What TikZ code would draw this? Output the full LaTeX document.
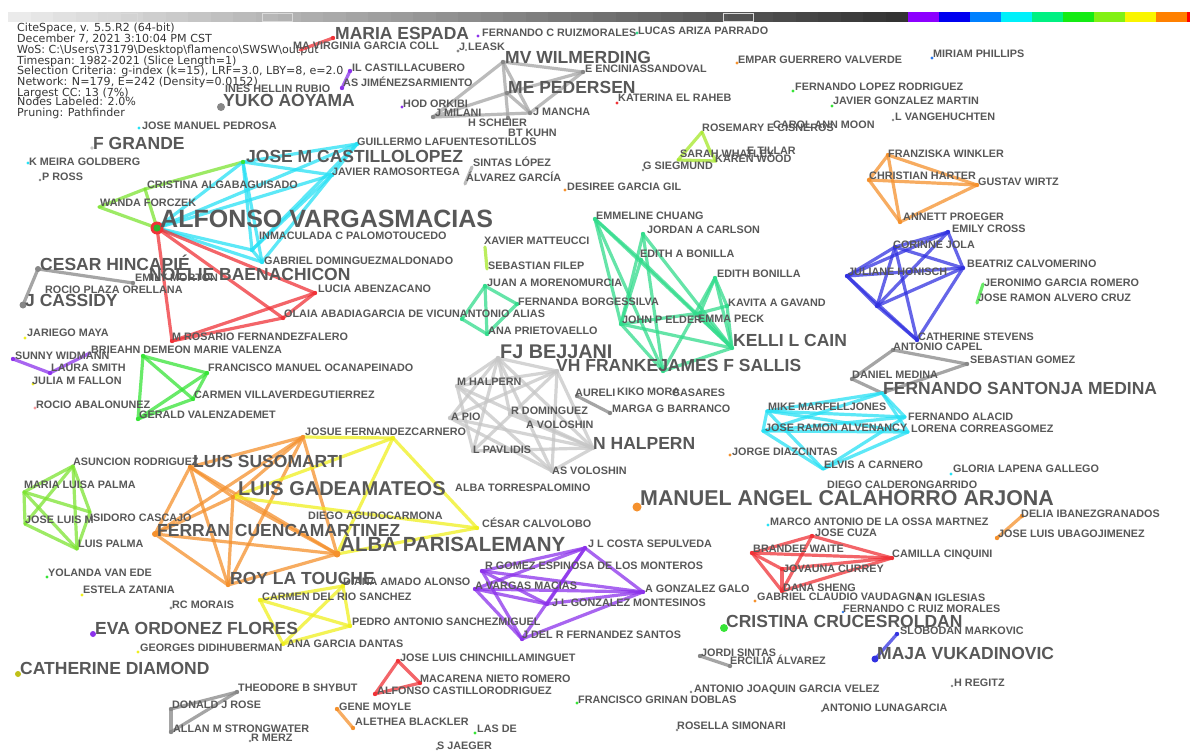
\documentclass[tikz,border=0pt]{standalone}
\usepackage{fontspec}
\setmainfont{Liberation Sans}
\newfontfamily\hdrfont{DejaVu Sans}
\definecolor{labc}{RGB}{88,88,88}
\definecolor{hdrc}{RGB}{55,55,55}
\definecolor{cCyan}{RGB}{40,225,245}
\definecolor{cRed}{RGB}{240,50,55}
\definecolor{cLime}{RGB}{125,228,50}
\definecolor{cSpring}{RGB}{50,220,140}
\definecolor{cBlue}{RGB}{50,50,225}
\definecolor{cAzure}{RGB}{40,120,240}
\definecolor{cPurple}{RGB}{140,50,235}
\definecolor{cOrange}{RGB}{245,145,45}
\definecolor{cYellow}{RGB}{240,240,30}
\definecolor{cGray}{RGB}{135,135,135}
\definecolor{cMGray}{RGB}{165,165,165}
\definecolor{cLGray}{RGB}{198,198,198}
\definecolor{cGreen}{RGB}{55,228,55}
\definecolor{cChart}{RGB}{165,232,40}
\tikzset{
  lb/.style={anchor=base west, inner sep=0pt, text=labc},
  ls/.style={lb, font=\bfseries\fontsize{10.8}{13}\selectfont, yshift=-3.9pt},
  lm/.style={lb, font=\bfseries\fontsize{17.5}{20}\selectfont, yshift=-6.3pt},
  hdr/.style={anchor=base west, inner sep=0pt, text=hdrc, font=\hdrfont\fontsize{11.1}{12}\selectfont, yshift=-4pt},
  edge/.style={line width=3.2pt, opacity=0.75, line cap=round},
}
\newcommand\Edges[2]{\foreach \a/\b in {#2} {\draw[edge,#1] (\a)--(\b);}}
\newcommand\Dots[2]{\foreach \a in {#2} {\fill[#1] (\a) circle (2.2pt);}}
\begin{document}
\begin{tikzpicture}[x=1pt,y=-1pt]
\useasboundingbox (0,0) rectangle (1195,752);
\fill[white] (0,0) rectangle (1195,752);

% ---- colour bar ----
\foreach \i in {0,...,39}{
  \pgfmathsetmacro\p{8+1.85*\i}
  \fill[black!\p] ({8+22.5*\i},12) rectangle ({8+22.5*(\i+1)+0.4},22);
}
\foreach \rr/\gg/\bb [count=\k from 0] in {140/0/255, 0/0/240, 0/128/255, 0/240/250, 0/240/130, 20/235/20, 130/240/20, 250/245/0, 255/128/0}{
  \definecolor{barc}{RGB}{\rr,\gg,\bb}
  \fill[barc] ({908+31*\k},12) rectangle ({908+31*(\k+1)+0.4},22);
}
\fill[red] (1187,12) rectangle (1190,22);
\foreach \x in {107,262,723}{\draw[white!70!gray, line width=0.9pt] (\x,13) rectangle (\x+30,21);}

% ---- header ----
\node[hdr] (h1) at (17,28) {CiteSpace, v. 5.5.R2 (64-bit)};
\node[hdr] (h2) at (17,39) {December 7, 2021 3:10:04 PM CST};
\node[hdr] (h3) at (17,50) {WoS: C:\textbackslash Users\textbackslash 73179\textbackslash Desktop\textbackslash flamenco\textbackslash SWSW\textbackslash output};
\node[hdr] (h4) at (17,61) {Timespan: 1982-2021 (Slice Length=1)};
\node[hdr] (h5) at (17,71) {Selection Criteria: g-index (k=15), LRF=3.0, LBY=8, e=2.0};
\node[hdr] (h6) at (17,82) {Network: N=179, E=242 (Density=0.0152)};
\node[hdr] (h7) at (17,92) {Largest CC: 13 (7\%)};
\node[hdr] (h8) at (17,102) {Nodes Labeled: 2.0\%};
\node[hdr] (h9) at (17,113) {Pruning: Pathfinder};

% ---- network nodes ----
\foreach \n/\x/\y in {
 avm/157/228, jmc/243/162, gls/357/144, jro/332/175, cag/145/189, wf/99/207, ipt/252/250, gdm/262/262,
 la/315/293, oa/283/318, mrf/172/341,
 chp/38/269, emm/133/283, jcs/23/305,
 mvw/503/62, mep/507/93, ees/583/72, jmi/433/117, jma/530/113, btk/508/118,
 mesp/333/38, mvgc/300/50, ilc/350/71, asj/342/88, sl/472/167, ag/465/184, xm/485/247, sf/487/269,
 ros/702/132, swh/678/160, etl/710/151, kw/716/161,
 fwk/888/155, chh/869/180, gwz/977/185, apg/900/222,
 ecr/948/232, cjl/895/247, bcm/963/268, jhn/847/276, bbl/877/306, cst/917/340,
 acp/893/350, dmd/852/379, sgz/967/364, fsm/882/393,
 mmj/767/411, jrv/763/431, eac/823/469, fal/905/417, lcg/908/432,
 emc/595/219, jac/643/234, eab/641/260, ebn/715/278, kag/727/306, jpe/621/324, emp/700/313, klc/732/348, vhf/663/371,
 jam/485/286, fbs/517/304, apv/487/334, aal/462/319,
 fjb/498/358, vhg/557/371, mhp/457/386, api/450/418, rdm/510/414, lpv/473/451, nhp/593/448, asv/552/471,
 aur/577/396, mgb/610/413,
 bdm/143/356, fmo/207/373, cvg/193/399, gvd/138/419,
 swd/13/359, lsw/50/373, bdp/90/353,
 asr/73/466, mlp/24/492, jlm/25/524, lpl/77/549, isc/90/512,
 jfo/303/437, lss/190/467, lgm/233/497, fcm/155/534, rlt/228/585, alb/337/554,
 yjf/393/438, ccl/477/528,
 crs/260/600, daa/343/586, pas/350/626, agd/283/644,
 jlc/585/548, rge/482/571, avp/475/589, jlg/547/604, jdr/522/639, agg/643/592,
 bwt/752/553, jcz/812/536, cci/892/558, jcu/782/569, dsh/782/591,
 jlch/398/661, mnr/420/683, acr/375/694,
 gmy/337/709, abl/353/728,
 tbs/237/692, djr/171/709, ams/171/732,
 jsi/700/656, eal/730/666,
 mvk/875/659, smk/897/634,
 dib/1022/516, jlu/997/538,
 jgr/983/284, jrc/977/303}
 {\coordinate (\n) at (\x,\y);}

% ---- connectors ----
\Edges{cLime}{wf/avm, wf/cag, cag/jmc, cag/avm}
\Edges{cCyan}{avm/jmc, avm/gls, avm/jro, avm/ipt, avm/gdm, jmc/gls, jmc/jro, jmc/ipt, jmc/gdm, gls/jro, gls/ipt, jro/ipt, jro/gdm, ipt/gdm}
\Edges{cRed}{avm/la, avm/oa, avm/mrf, mrf/la, mrf/oa, la/oa}
\Edges{cGray}{chp/emm, chp/jcs}
\Edges{cMGray}{mvw/ees, mvw/jmi, mvw/jma, mvw/btk, mep/jmi, mep/ees, mep/jma, jmi/jma, jma/ees}
\Edges{cRed}{mesp/mvgc}
\Edges{cPurple}{ilc/asj}
\Edges{cMGray}{sl/ag}
\Edges{cChart}{xm/sf, ros/swh, ros/etl, swh/kw, etl/kw}
\Edges{cOrange}{fwk/gwz, chh/gwz, gwz/apg, fwk/chh, chh/apg, fwk/apg}
\Edges{cBlue}{ecr/cjl, ecr/bcm, ecr/jhn, ecr/bbl, cjl/bcm, cjl/jhn, cjl/cst, cjl/bbl, bcm/jhn, bcm/bbl, bcm/cst, jhn/bbl, jhn/cst, bbl/cst}
\Edges{cGray}{acp/sgz, fsm/sgz, dmd/acp, dmd/fsm}
\Edges{cCyan}{mmj/fsm, mmj/fal, mmj/lcg, jrv/fsm, jrv/fal, jrv/lcg, eac/lcg, eac/fal, eac/mmj, jrv/eac, mmj/jrv, fsm/fal, fsm/lcg}
\Edges{cSpring}{emc/klc, emc/jpe, emc/vhf, emc/eab, jac/klc, jac/jpe, jac/vhf, eab/klc, eab/jpe, ebn/klc, ebn/emp, ebn/kag, kag/klc, kag/emp, emp/klc, emp/jpe, jpe/klc, jpe/vhf, vhf/klc, ebn/vhf}
\Edges{cSpring}{jam/fbs, fbs/apv, apv/aal, aal/jam, jam/apv}
\Edges{cLGray}{fjb/mhp, fjb/api, fjb/rdm, fjb/lpv, fjb/nhp, fjb/asv, fjb/vhg, vhg/mhp, vhg/api, vhg/lpv, vhg/nhp, vhg/asv, mhp/nhp, mhp/asv, api/nhp, lpv/nhp, rdm/nhp, asv/nhp, api/asv, mhp/lpv}
\Edges{cGray}{aur/mgb}
\Edges{cGreen}{bdm/fmo, bdm/cvg, bdm/gvd, fmo/gvd, cvg/gvd, fmo/cvg}
\Edges{cPurple}{swd/lsw, lsw/bdp}
\Edges{cLime}{asr/mlp, asr/jlm, asr/lpl, asr/isc, mlp/lpl, mlp/isc, jlm/lpl, mlp/jlm, isc/lpl}
\Edges{cOrange}{jfo/lss, jfo/fcm, jfo/rlt, jfo/alb, jfo/lgm, lss/fcm, lss/rlt, lss/alb, lss/lgm, fcm/rlt, fcm/alb, fcm/lgm, rlt/alb, rlt/lgm, lgm/alb}
\Edges{cYellow}{yjf/ccl, yjf/alb, yjf/lgm, ccl/alb, ccl/lgm, yjf/jfo}
\Edges{cYellow}{crs/daa, crs/pas, daa/pas, crs/agd, agd/pas, agd/daa}
\Edges{cPurple}{jlc/rge, jlc/avp, jlc/jlg, jlc/agg, jlc/jdr, rge/agg, rge/jlg, avp/agg, avp/jlg, avp/jdr, jlg/agg, jdr/agg, rge/jdr}
\Edges{cRed}{bwt/jcz, bwt/cci, bwt/dsh, bwt/jcu, jcz/cci, jcz/dsh, jcu/cci, dsh/cci, jcu/dsh}
\Edges{cRed}{jlch/mnr, jlch/acr, mnr/acr}
\Edges{cOrange}{gmy/abl, dib/jlu}
\Edges{cGray}{tbs/djr, tbs/ams, djr/ams, jsi/eal}
\Edges{cBlue}{mvk/smk}
\Edges{cGreen}{jgr/jrc}

% ---- node dots ----
\Dots{cGreen}{jmc}
\Dots{cCyan}{gls,jro,ipt,gdm}
\Dots{cRed}{la,oa,mrf,mesp,bwt,jcz,cci,jcu,dsh,jlch,mnr,acr}
\Dots{cGray}{chp,emm,jcs,mvw,mep,ees,jmi,jma,btk,acp,dmd,sgz,tbs,djr,ams,jsi,eal,aur,mgb}
\Dots{cOrange}{fwk,chh,gwz,apg,jfo,lss,lgm,fcm,rlt,alb,gmy,abl,dib,jlu}
\Dots{cBlue}{ecr,cjl,bcm,jhn,bbl,cst,mvk,smk}
\Dots{cPurple}{jlc,rge,avp,jlg,jdr,agg,swd,lsw,ilc,asj}
\Dots{cGreen}{bdm,fmo,cvg,gvd}
\Dots{cSpring}{emc,jac,eab,ebn,kag,jpe,emp,klc,vhf,jam,fbs,apv,aal}
\Dots{cLGray}{fjb,vhg,mhp,api,rdm,lpv,nhp,asv}
\Dots{cYellow}{yjf,ccl,crs,daa,pas,agd}
\fill[cRed] (avm) circle (6.5pt);
\fill[cGreen!80!black] (avm) circle (3.6pt);
\fill[cGray] (jcs) circle (3.5pt);
\fill[cGray] (chp) circle (3pt);
\fill[cOrange] (fcm) circle (3pt);
\fill[cOrange] (alb) circle (3.5pt);
\fill[cBlue] (mvk) circle (3.5pt);
\foreach \x/\y/\c/\r in {
 478/36/cPurple/1.6, 637/33/cSpring/1.6, 458/51/cGray/1.6, 737/63/cOrange/1.6, 932/58/cAzure/1.6,
 617/103/cRed/1.6, 793/91/cGreen/1.6, 832/106/cGreen/1.6, 893/120/cGray/1.4, 139/128/cCyan/1.6,
 92/148/cLGray/1.8, 28/163/cCyan/1.6, 40/180/cGray/1.4, 402/107/cPurple/1.6, 643/170/cGray/1.4,
 565/190/cOrange/1.6, 25/338/cYellow/1.6, 33/384/cYellow/1.6, 35/408/cRed!50/1.6, 47/577/cGreen/1.6,
 82/595/cYellow/1.6, 171/608/cGray/1.6, 93/634/cPurple/3, 138/652/cYellow/1.6, 18/674/cYellow!80!black/3,
 637/507/cOrange/4.5, 724/628/cGreen/4, 221/107/cGray/4, 730/455/cOrange/1.6, 768/525/cCyan/1.6,
 755/601/cOrange/1.6, 951/474/cCyan/1.6, 577/703/cGreen/1.6, 475/733/cGreen/1.6, 437/749/cGray/1.4,
 677/730/cGray/1.4, 822/711/cGray/1.4, 952/686/cGray/1.4, 250/741/cGray/1.4, 691/692/cGray/1.4,
 843/612/cAzure/1.4, 466/50/cGray/1.2}
 {\fill[\c] (\x,\y) circle (\r pt);}

% ---- small labels ----
\foreach \x/\y/\t in {
 293/46/MA VIRGINIA GARCIA COLL, 482/33/FERNANDO C RUIZMORALES, 638/31/LUCAS ARIZA PARRADO,
 459/47/J LEASK, 585/69/E ENCINIASSANDOVAL, 352/68/IL CASTILLACUBERO, 343/83/AS JIMÉNEZSARMIENTO,
 225/89/INES HELLIN RUBIO, 403/104/HOD ORKIBI, 435/113/J MILANI, 533/112/J MANCHA, 468/123/H SCHEIER,
 508/133/BT KUHN, 618/98/KATERINA EL RAHEB, 738/60/EMPAR GUERRERO VALVERDE, 933/54/MIRIAM PHILLIPS,
 795/87/FERNANDO LOPEZ RODRIGUEZ, 833/101/JAVIER GONZALEZ MARTIN, 895/117/L VANGEHUCHTEN,
 142/126/JOSE MANUEL PEDROSA, 357/142/GUILLERMO LAFUENTESOTILLOS, 702/128/ROSEMARY E CISNEROS,
 773/125/CAROL ANN MOON, 680/154/SARAH WHATLEY, 747/151/E TILLAR, 715/159/KAREN WOOD,
 643/166/G SIEGMUND, 888/154/FRANZISKA WINKLER, 869/176/CHRISTIAN HARTER, 978/182/GUSTAV WIRTZ,
 29/162/K MEIRA GOLDBERG, 473/163/SINTAS LÓPEZ, 332/172/JAVIER RAMOSORTEGA, 466/178/ÁLVAREZ GARCÍA,
 42/177/P ROSS, 567/187/DESIREE GARCIA GIL, 147/185/CRISTINA ALGABAGUISADO, 100/203/WANDA FORCZEK,
 596/216/EMMELINE CHUANG, 647/230/JORDAN A CARLSON, 903/217/ANNETT PROEGER, 952/229/EMILY CROSS,
 259/236/INMACULADA C PALOMOTOUCEDO, 893/245/CORINNE JOLA, 484/241/XAVIER MATTEUCCI,
 640/254/EDITH A BONILLA, 264/261/GABRIEL DOMINGUEZMALDONADO, 848/272/JULIANE HONISCH,
 967/264/BEATRIZ CALVOMERINO, 488/266/SEBASTIAN FILEP, 984/283/JERONIMO GARCIA ROMERO,
 717/274/EDITH BONILLA, 487/283/JUAN A MORENOMURCIA, 135/278/EMILY MORTON, 45/290/ROCIO PLAZA ORELLANA,
 318/289/LUCIA ABENZACANO, 728/303/KAVITA A GAVAND, 978/298/JOSE RAMON ALVERO CRUZ,
 518/302/FERNANDA BORGESSILVA, 284/314/OLAIA ABADIAGARCIA DE VICUNANTONIO ALIAS, 622/320/JOHN P ELDER,
 698/319/EMMA PECK, 27/333/JARIEGO MAYA, 172/337/M ROSARIO FERNANDEZFALERO, 488/331/ANA PRIETOVAELLO,
 918/337/CATHERINE STEVENS, 893/347/ANTONIO CAPEL, 15/356/SUNNY WIDMANN,
 91/350/BRIEAHN DEMEON MARIE VALENZA, 970/360/SEBASTIAN GOMEZ, 51/368/LAURA SMITH,
 208/368/FRANCISCO MANUEL OCANAPEINADO, 852/375/DANIEL MEDINA, 32/381/JULIA M FALLON,
 575/393/AURELI, 617/392/KIKO MORA, 672/393/CASARES, 457/382/M HALPERN,
 194/395/CARMEN VILLAVERDEGUTIERREZ, 612/409/MARGA G BARRANCO, 511/411/R DOMINGUEZ, 451/417/A PIO,
 36/405/ROCIO ABALONUNEZ, 139/415/GERALD VALENZADEMET, 768/407/MIKE MARFELLJONES,
 908/417/FERNANDO ALACID, 526/425/A VOLOSHIN, 765/428/JOSE RAMON ALVENANCY, 911/429/LORENA CORREASGOMEZ,
 305/432/JOSUE FERNANDEZCARNERO, 473/450/L PAVLIDIS, 732/452/JORGE DIAZCINTAS,
 73/462/ASUNCION RODRIGUEZ, 824/465/ELVIS A CARNERO, 953/469/GLORIA LAPENA GALLEGO,
 552/471/AS VOLOSHIN, 455/488/ALBA TORRESPALOMINO, 24/485/MARIA LUISA PALMA,
 827/485/DIEGO CALDERONGARRIDO, 308/516/DIEGO AGUDOCARMONA, 1021/514/DELIA IBANEZGRANADOS,
 25/520/JOSE LUIS M, 90/518/ISIDORO CASCAJO, 482/524/CÉSAR CALVOLOBO,
 770/522/MARCO ANTONIO DE LA OSSA MARTNEZ, 815/533/JOSE CUZA, 998/534/JOSE LUIS UBAGOJIMENEZ,
 588/544/J L COSTA SEPULVEDA, 78/544/LUIS PALMA, 753/549/BRANDEE WAITE, 892/554/CAMILLA CINQUINI,
 485/566/R GOMEZ ESPINOSA DE LOS MONTEROS, 783/569/JOVAUNA CURREY, 48/573/YOLANDA VAN EDE,
 343/582/DIANA AMADO ALONSO, 475/586/A VARGAS MACIAS, 645/589/A GONZALEZ GALO, 783/588/DANA SHENG,
 83/590/ESTELA ZATANIA, 757/597/GABRIEL CLAUDIO VAUDAGNA, 916/598/AN IGLESIAS,
 262/597/CARMEN DEL RIO SANCHEZ, 552/603/J L GONZALEZ MONTESINOS, 172/605/RC MORAIS,
 843/609/FERNANDO C RUIZ MORALES, 352/622/PEDRO ANTONIO SANCHEZMIGUEL, 900/631/SLOBODAN MARKOVIC,
 522/635/J DEL R FERNANDEZ SANTOS, 140/648/GEORGES DIDIHUBERMAN, 287/644/ANA GARCIA DANTAS,
 400/658/JOSE LUIS CHINCHILLAMINGUET, 701/653/JORDI SINTAS, 730/661/ERCILIA ÁLVAREZ,
 420/679/MACARENA NIETO ROMERO, 238/688/THEODORE B SHYBUT, 377/691/ALFONSO CASTILLORODRIGUEZ,
 694/689/ANTONIO JOAQUIN GARCIA VELEZ, 954/683/H REGITZ, 578/700/FRANCISCO GRINAN DOBLAS,
 172/705/DONALD J ROSE, 339/707/GENE MOYLE, 822/708/ANTONIO LUNAGARCIA, 355/722/ALETHEA BLACKLER,
 477/729/LAS DE, 173/729/ALLAN M STRONGWATER, 677/726/ROSELLA SIMONARI, 251/738/R MERZ, 437/746/S JAEGER}
 {\node[ls] (s\x-\y) at (\x,\y) {\t};}

% ---- medium labels ----
\foreach \x/\y/\t in {
 335/33/MARIA ESPADA, 505/57/MV WILMERDING, 508/87/ME PEDERSEN, 223/100/YUKO AOYAMA,
 93/143/F GRANDE, 246/156/JOSE M CASTILLOLOPEZ, 40/264/CESAR HINCAPIÉ, 149/274/NOELIE BAENACHICON,
 25/300/J CASSIDY, 733/340/KELLI L CAIN, 556/365/VH FRANKEJAMES F SALLIS,
 883/388/FERNANDO SANTONJA MEDINA, 593/443/N HALPERN, 193/461/LUIS SUSOMARTI,
 157/530/FERRAN CUENCAMARTINEZ, 230/578/ROY LA TOUCHE, 95/628/EVA ORDONEZ FLORES,
 726/621/CRISTINA CRUCESROLDAN, 877/653/MAJA VUKADINOVIC, 20/668/CATHERINE DIAMOND}
 {\node[lm] (m\x-\y) at (\x,\y) {\t};}

% ---- large labels ----
\node[lb, font=\bfseries\fontsize{19.8}{22}\selectfont, yshift=-7.1pt] (fjbl) at (500,351) {FJ BEJJANI};
\node[lb, font=\bfseries\fontsize{20}{22}\selectfont, yshift=-7.2pt] (lgml) at (238,488) {LUIS GADEAMATEOS};
\node[lb, font=\bfseries\fontsize{20.5}{23}\selectfont, yshift=-7.3pt] (albl) at (340,544) {ALBA PARISALEMANY};
\node[lb, font=\bfseries\fontsize{21.4}{24}\selectfont, yshift=-7.7pt] (mal) at (640,498) {MANUEL ANGEL CALAHORRO ARJONA};
\node[lb, font=\bfseries\fontsize{25}{28}\selectfont, yshift=-9pt] (avml) at (160,218) {ALFONSO VARGASMACIAS};
\end{tikzpicture}
\end{document}
